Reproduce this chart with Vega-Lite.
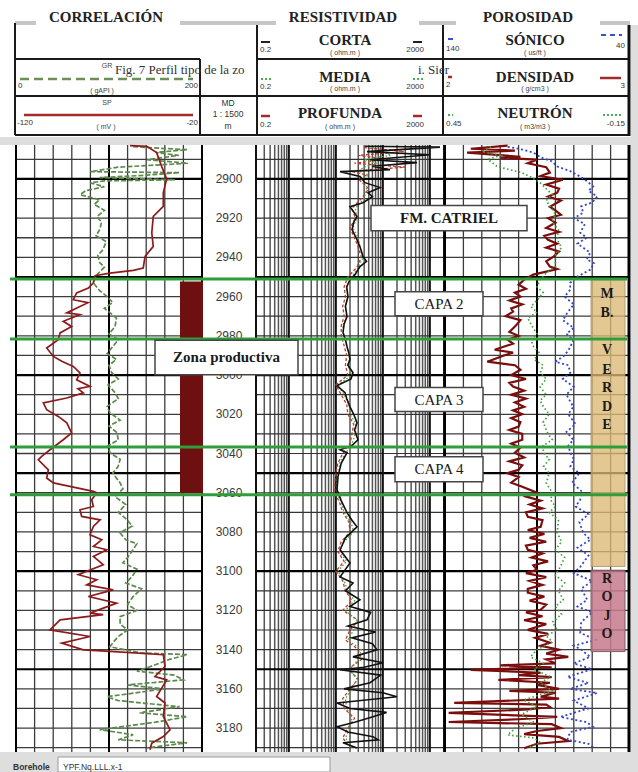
{
"$schema":"https://vega.github.io/schema/vega-lite/v6.json",
"width":638,"height":772,"autosize":{"type":"none"},"padding":0,
"background":"#ffffff",
"config":{"view":{"stroke":null}},
"datasets":{
"hmin":[{"d":2890},{"d":2910},{"d":2920},{"d":2930},{"d":2940},{"d":2960},{"d":2970},{"d":2980},{"d":2990},{"d":3010},{"d":3020},{"d":3030},{"d":3040},{"d":3060},{"d":3070},{"d":3080},{"d":3090},{"d":3110},{"d":3120},{"d":3130},{"d":3140},{"d":3160},{"d":3170},{"d":3180},{"d":3190}],
"hmaj":[{"d":2900},{"d":2950},{"d":3000},{"d":3050},{"d":3100},{"d":3150}],
"sp":[{"d":2883,"v":-58.7},{"d":2883.4,"v":-49.7},{"d":2886.6,"v":-44.4},{"d":2893.6,"v":-41.7},{"d":2900,"v":-39},{"d":2907.1,"v":-40.8},{"d":2914,"v":-40.8},{"d":2919.1,"v":-46.2},{"d":2927.5,"v":-47},{"d":2934.4,"v":-46.2},{"d":2939.5,"v":-50.6},{"d":2945.4,"v":-51.6},{"d":2946.6,"v":-56.9},{"d":2948,"v":-69.5},{"d":2949.3,"v":-77.5},{"d":2953,"v":-78.4},{"d":2955.6,"v":-81.1},{"d":2958.1,"v":-87.4},{"d":2961.6,"v":-89.2},{"d":2963.1,"v":-81.3},{"d":2965,"v":-85.6},{"d":2968.3,"v":-92.7},{"d":2969.2,"v":-85.6},{"d":2972.6,"v":-94.6},{"d":2975.2,"v":-90.1},{"d":2978.5,"v":-96.3},{"d":2982,"v":-97.3},{"d":2986.2,"v":-103.5},{"d":2990.5,"v":-99.9},{"d":2993,"v":-95.4},{"d":2995.6,"v":-89.2},{"d":2998.9,"v":-85.6},{"d":3002.4,"v":-87.4},{"d":3005.8,"v":-80.2},{"d":3007,"v":-86.7},{"d":3009.1,"v":-83.8},{"d":3011.7,"v":-92.7},{"d":3014.2,"v":-105.3},{"d":3017.7,"v":-103.5},{"d":3021.1,"v":-97.3},{"d":3024.4,"v":-92.7},{"d":3029.5,"v":-90.1},{"d":3033,"v":-94.6},{"d":3038.1,"v":-101.7},{"d":3041.5,"v":-106.2},{"d":3043.2,"v":-108},{"d":3048.3,"v":-102.6},{"d":3052.5,"v":-103.5},{"d":3055,"v":-99.9},{"d":3059.3,"v":-78.4},{"d":3060.1,"v":-76.6},{"d":3063.6,"v":-79.3},{"d":3067,"v":-78.4},{"d":3068.7,"v":-85.6},{"d":3072.1,"v":-84.7},{"d":3073.8,"v":-74.8},{"d":3077.2,"v":-78.4},{"d":3081.4,"v":-80.2},{"d":3084,"v":-73.9},{"d":3087.4,"v":-78.4},{"d":3089.1,"v":-71.2},{"d":3092.5,"v":-78.4},{"d":3096.7,"v":-73.1},{"d":3101.8,"v":-86.5},{"d":3104.4,"v":-76.6},{"d":3107,"v":-82},{"d":3109.5,"v":-67.7},{"d":3112.9,"v":-81.1},{"d":3116.3,"v":-65.9},{"d":3121.4,"v":-80.2},{"d":3122.2,"v":-73.1},{"d":3124.8,"v":-96.3},{"d":3129.9,"v":-101.7},{"d":3133.3,"v":-80.2},{"d":3136.7,"v":-95.4},{"d":3140.1,"v":-83.8},{"d":3140.9,"v":-69.5},{"d":3142.6,"v":-40.8},{"d":3148.6,"v":-39.9},{"d":3153.7,"v":-45.3},{"d":3155.4,"v":-39},{"d":3163.9,"v":-44.4},{"d":3167.2,"v":-39.9},{"d":3174.1,"v":-40.8},{"d":3180.9,"v":-37.2},{"d":3184.3,"v":-40.8},{"d":3187.7,"v":-47},{"d":3191.1,"v":-48}],
"gr":[{"d":2883.5,"v":126},{"d":2884.5,"v":160},{"d":2885.1,"v":184},{"d":2886.5,"v":150},{"d":2888,"v":175},{"d":2890.2,"v":141},{"d":2892,"v":185},{"d":2894,"v":110},{"d":2896.3,"v":80},{"d":2896.8,"v":176},{"d":2898.3,"v":133},{"d":2899.3,"v":90},{"d":2900.4,"v":171},{"d":2901,"v":95},{"d":2902,"v":80},{"d":2904,"v":95},{"d":2906,"v":75},{"d":2908,"v":69},{"d":2910.6,"v":90},{"d":2913,"v":84},{"d":2916,"v":95},{"d":2919.2,"v":87},{"d":2922,"v":92},{"d":2925.9,"v":90},{"d":2929,"v":86},{"d":2932,"v":97},{"d":2936.1,"v":93.5},{"d":2939,"v":88},{"d":2942.7,"v":90},{"d":2945,"v":95},{"d":2948.8,"v":87},{"d":2952.9,"v":83},{"d":2957,"v":90},{"d":2960,"v":98},{"d":2963,"v":104},{"d":2966,"v":95},{"d":2968.2,"v":101},{"d":2971,"v":108},{"d":2975.3,"v":106.5},{"d":2979,"v":100},{"d":2982,"v":110},{"d":2985.5,"v":104},{"d":2989,"v":98},{"d":2992,"v":108},{"d":2995,"v":100},{"d":2998.8,"v":103},{"d":3002,"v":110},{"d":3005,"v":99},{"d":3009,"v":106.5},{"d":3012,"v":110},{"d":3016,"v":98},{"d":3019.2,"v":101},{"d":3023,"v":112},{"d":3026,"v":100},{"d":3029.4,"v":108.6},{"d":3033,"v":110},{"d":3036,"v":99},{"d":3039.6,"v":101},{"d":3043,"v":112},{"d":3046.7,"v":109.7},{"d":3050,"v":104},{"d":3054.9,"v":111.8},{"d":3058,"v":115},{"d":3062,"v":106.5},{"d":3066,"v":118},{"d":3070,"v":110},{"d":3073.8,"v":119.4},{"d":3077,"v":125},{"d":3080.4,"v":111.8},{"d":3084,"v":118},{"d":3086,"v":130},{"d":3089.1,"v":125.8},{"d":3093,"v":120},{"d":3095.7,"v":115},{"d":3099,"v":130},{"d":3102.8,"v":124.7},{"d":3106,"v":118},{"d":3109,"v":135},{"d":3113,"v":125.8},{"d":3117,"v":120},{"d":3120,"v":130},{"d":3123.2,"v":111.8},{"d":3127,"v":112},{"d":3130,"v":120},{"d":3133.4,"v":109.7},{"d":3136,"v":105},{"d":3138.5,"v":101},{"d":3141.6,"v":133},{"d":3142.6,"v":184},{"d":3145,"v":165},{"d":3148.7,"v":144},{"d":3151,"v":130},{"d":3153,"v":170},{"d":3155.4,"v":180},{"d":3158,"v":120},{"d":3160,"v":160},{"d":3164,"v":98},{"d":3166,"v":110},{"d":3169.1,"v":176},{"d":3172.2,"v":133},{"d":3174.2,"v":184},{"d":3177,"v":150},{"d":3180.8,"v":90},{"d":3183.4,"v":126},{"d":3186,"v":110},{"d":3187.5,"v":184},{"d":3190.1,"v":141}],
"rb":[{"d":2883.3,"v":41.7},{"d":2883.8,"v":1644},{"d":2886.1,"v":46},{"d":2887.7,"v":1007},{"d":2890.2,"v":53.3},{"d":2891.7,"v":533},{"d":2893.5,"v":60},{"d":2895.3,"v":141.9},{"d":2896.3,"v":12.3},{"d":2898.8,"v":32.6},{"d":2901.9,"v":41.7},{"d":2904.4,"v":86.9},{"d":2907,"v":48.3},{"d":2909,"v":60},{"d":2912.1,"v":37.8},{"d":2914.2,"v":20},{"d":2919.2,"v":28.2},{"d":2922,"v":24},{"d":2925.9,"v":22.1},{"d":2931,"v":28.2},{"d":2935,"v":33},{"d":2939.6,"v":37.8},{"d":2942,"v":45},{"d":2944.7,"v":32.6},{"d":2948.8,"v":25.5},{"d":2951.4,"v":20},{"d":2955,"v":17},{"d":2960,"v":18.1},{"d":2965,"v":16},{"d":2970.2,"v":17.3},{"d":2974,"v":15},{"d":2978.4,"v":14.2},{"d":2982,"v":16},{"d":2985.5,"v":17.3},{"d":2989,"v":19},{"d":2992.2,"v":20},{"d":2995,"v":18},{"d":2998.8,"v":23.2},{"d":3002,"v":21},{"d":3005.2,"v":11},{"d":3005.9,"v":11.1},{"d":3009,"v":15.7},{"d":3012,"v":17},{"d":3016.2,"v":20},{"d":3020,"v":24},{"d":3024.3,"v":28.2},{"d":3028,"v":25},{"d":3033,"v":29.6},{"d":3036,"v":22},{"d":3038.1,"v":12.3},{"d":3039.6,"v":17.3},{"d":3045,"v":13},{"d":3051.8,"v":11.1},{"d":3058.5,"v":10.6},{"d":3064,"v":13},{"d":3070.2,"v":17.3},{"d":3074,"v":22},{"d":3077.4,"v":28.2},{"d":3083,"v":16},{"d":3089.1,"v":12.3},{"d":3095.8,"v":20},{"d":3102.9,"v":12.3},{"d":3106,"v":23.2},{"d":3110,"v":16},{"d":3114.6,"v":32.6},{"d":3118,"v":20},{"d":3121,"v":55},{"d":3124.8,"v":46},{"d":3128,"v":18},{"d":3131,"v":70},{"d":3134,"v":22},{"d":3137,"v":60},{"d":3140.1,"v":75},{"d":3143.7,"v":23.2},{"d":3146.7,"v":100.7},{"d":3149,"v":40},{"d":3150.3,"v":12.3},{"d":3153,"v":90},{"d":3156.9,"v":53.3},{"d":3160,"v":15},{"d":3162,"v":100},{"d":3164,"v":200},{"d":3167.2,"v":10.6},{"d":3170,"v":20},{"d":3172,"v":120},{"d":3174.2,"v":61.7},{"d":3177,"v":25},{"d":3179.3,"v":10.6},{"d":3182,"v":18},{"d":3184.4,"v":61.7},{"d":3186,"v":80},{"d":3187.5,"v":14.2},{"d":3190.1,"v":28.2}],
"rr":[{"d":2884,"v":40},{"d":2886,"v":280},{"d":2888,"v":30},{"d":2890,"v":120},{"d":2892,"v":25},{"d":2894,"v":300},{"d":2896,"v":20},{"d":2898,"v":45},{"d":2900,"v":30},{"d":2905,"v":50},{"d":2910,"v":35},{"d":2915,"v":22},{"d":2920,"v":26},{"d":2925,"v":20},{"d":2930,"v":25},{"d":2935,"v":30},{"d":2940,"v":35},{"d":2945,"v":28},{"d":2950,"v":18},{"d":2955,"v":15},{"d":2960,"v":16},{"d":2965,"v":14},{"d":2970,"v":15},{"d":2975,"v":13},{"d":2980,"v":13},{"d":2985,"v":15},{"d":2990,"v":17},{"d":2995,"v":16},{"d":3000,"v":18},{"d":3005,"v":10},{"d":3010,"v":13},{"d":3015,"v":17},{"d":3020,"v":18},{"d":3025,"v":24},{"d":3030,"v":22},{"d":3035,"v":20},{"d":3040,"v":14},{"d":3045,"v":11},{"d":3050,"v":10},{"d":3055,"v":9.5},{"d":3060,"v":9.5},{"d":3065,"v":12},{"d":3070,"v":14},{"d":3075,"v":19},{"d":3080,"v":20},{"d":3085,"v":13},{"d":3090,"v":11},{"d":3095,"v":15},{"d":3100,"v":10},{"d":3105,"v":14},{"d":3110,"v":16},{"d":3115,"v":22},{"d":3120,"v":14},{"d":3125,"v":30},{"d":3130,"v":20},{"d":3135,"v":16},{"d":3140,"v":30},{"d":3145,"v":35},{"d":3150,"v":18},{"d":3155,"v":30},{"d":3160,"v":20},{"d":3165,"v":14},{"d":3170,"v":15},{"d":3175,"v":25},{"d":3180,"v":18},{"d":3185,"v":14},{"d":3190,"v":20}],
"rg":[{"d":2884,"v":60},{"d":2886,"v":90},{"d":2888,"v":150},{"d":2890,"v":40},{"d":2892,"v":70},{"d":2894,"v":40},{"d":2896,"v":30},{"d":2898,"v":50},{"d":2900,"v":35},{"d":2905,"v":45},{"d":2910,"v":40},{"d":2915,"v":26},{"d":2920,"v":28},{"d":2925,"v":23},{"d":2930,"v":30},{"d":2935,"v":33},{"d":2940,"v":38},{"d":2945,"v":30},{"d":2950,"v":22},{"d":2955,"v":17},{"d":2960,"v":18},{"d":2965,"v":16},{"d":2970,"v":17},{"d":2975,"v":14},{"d":2980,"v":15},{"d":2985,"v":17},{"d":2990,"v":20},{"d":2995,"v":18},{"d":3000,"v":22},{"d":3005,"v":11},{"d":3010,"v":15},{"d":3015,"v":19},{"d":3020,"v":20},{"d":3025,"v":27},{"d":3030,"v":26},{"d":3035,"v":22},{"d":3040,"v":16},{"d":3045,"v":12},{"d":3050,"v":11.5},{"d":3055,"v":10.5},{"d":3060,"v":10.5},{"d":3065,"v":13},{"d":3070,"v":15},{"d":3075,"v":21},{"d":3080,"v":24},{"d":3085,"v":15},{"d":3090,"v":12},{"d":3095,"v":17},{"d":3100,"v":11},{"d":3105,"v":15},{"d":3110,"v":18},{"d":3115,"v":25},{"d":3120,"v":16},{"d":3125,"v":28},{"d":3130,"v":24},{"d":3135,"v":18},{"d":3140,"v":35},{"d":3145,"v":30},{"d":3150,"v":20},{"d":3155,"v":28},{"d":3160,"v":22},{"d":3165,"v":16},{"d":3170,"v":17},{"d":3175,"v":22},{"d":3180,"v":20},{"d":3185,"v":16},{"d":3190,"v":22}],
"rho":[{"d":2883,"v":2.34},{"d":2884.6,"v":2.14},{"d":2885.6,"v":2.38},{"d":2886.6,"v":2.12},{"d":2888.7,"v":2.41},{"d":2889.2,"v":2.3},{"d":2890.2,"v":2.5},{"d":2892,"v":2.45},{"d":2894,"v":2.55},{"d":2896.8,"v":2.57},{"d":2898.5,"v":2.52},{"d":2900.4,"v":2.64},{"d":2902.9,"v":2.55},{"d":2905,"v":2.62},{"d":2907,"v":2.61},{"d":2909,"v":2.56},{"d":2911,"v":2.63},{"d":2914.2,"v":2.57},{"d":2916,"v":2.6},{"d":2918.3,"v":2.63},{"d":2920,"v":2.56},{"d":2922.3,"v":2.6},{"d":2925,"v":2.55},{"d":2927,"v":2.62},{"d":2929,"v":2.54},{"d":2931,"v":2.56},{"d":2933,"v":2.61},{"d":2935,"v":2.55},{"d":2937,"v":2.62},{"d":2939.6,"v":2.59},{"d":2942,"v":2.55},{"d":2944.7,"v":2.57},{"d":2946,"v":2.61},{"d":2948.8,"v":2.48},{"d":2951.4,"v":2.43},{"d":2954,"v":2.4},{"d":2956,"v":2.44},{"d":2958,"v":2.38},{"d":2960,"v":2.41},{"d":2962,"v":2.35},{"d":2964,"v":2.42},{"d":2966,"v":2.36},{"d":2967.7,"v":2.37},{"d":2970,"v":2.33},{"d":2972,"v":2.41},{"d":2975.3,"v":2.38},{"d":2978,"v":2.35},{"d":2980,"v":2.4},{"d":2982,"v":2.34},{"d":2984,"v":2.37},{"d":2987.1,"v":2.27},{"d":2988.6,"v":2.37},{"d":2990,"v":2.32},{"d":2993.2,"v":2.23},{"d":2995,"v":2.38},{"d":2997.3,"v":2.41},{"d":3000,"v":2.36},{"d":3002,"v":2.44},{"d":3004,"v":2.35},{"d":3005.9,"v":2.37},{"d":3008,"v":2.43},{"d":3010,"v":2.36},{"d":3012,"v":2.44},{"d":3014,"v":2.38},{"d":3016.2,"v":2.43},{"d":3018,"v":2.37},{"d":3020,"v":2.42},{"d":3022,"v":2.36},{"d":3024,"v":2.41},{"d":3026.3,"v":2.4},{"d":3028,"v":2.35},{"d":3030,"v":2.42},{"d":3033,"v":2.42},{"d":3035,"v":2.36},{"d":3037,"v":2.41},{"d":3039.6,"v":2.38},{"d":3042,"v":2.43},{"d":3044,"v":2.35},{"d":3046,"v":2.42},{"d":3048.3,"v":2.4},{"d":3050,"v":2.34},{"d":3052,"v":2.4},{"d":3054.9,"v":2.36},{"d":3057,"v":2.42},{"d":3060,"v":2.5},{"d":3062,"v":2.44},{"d":3064,"v":2.52},{"d":3066,"v":2.46},{"d":3068,"v":2.53},{"d":3070,"v":2.44},{"d":3072.3,"v":2.45},{"d":3074,"v":2.53},{"d":3077.4,"v":2.52},{"d":3079,"v":2.45},{"d":3081,"v":2.54},{"d":3083,"v":2.46},{"d":3085,"v":2.55},{"d":3087,"v":2.44},{"d":3089.1,"v":2.45},{"d":3091,"v":2.53},{"d":3093,"v":2.47},{"d":3095,"v":2.56},{"d":3097,"v":2.48},{"d":3099.3,"v":2.5},{"d":3101,"v":2.44},{"d":3103,"v":2.55},{"d":3105,"v":2.46},{"d":3107,"v":2.53},{"d":3109,"v":2.45},{"d":3111,"v":2.45},{"d":3113,"v":2.54},{"d":3115,"v":2.46},{"d":3117,"v":2.55},{"d":3119.7,"v":2.52},{"d":3121,"v":2.44},{"d":3123,"v":2.53},{"d":3125,"v":2.43},{"d":3127,"v":2.55},{"d":3129.9,"v":2.45},{"d":3132,"v":2.56},{"d":3134,"v":2.49},{"d":3136.5,"v":2.57},{"d":3138,"v":2.52},{"d":3140,"v":2.62},{"d":3142,"v":2.55},{"d":3143.7,"v":2.67},{"d":3145,"v":2.55},{"d":3147,"v":2.6},{"d":3148,"v":2.3},{"d":3149,"v":2.58},{"d":3150.3,"v":2.14},{"d":3151.8,"v":2.52},{"d":3153,"v":2.4},{"d":3154,"v":2.58},{"d":3155.4,"v":2.29},{"d":3156.9,"v":2.57},{"d":3158,"v":2.5},{"d":3160,"v":2.62},{"d":3161,"v":2.35},{"d":3162,"v":2.6},{"d":3164,"v":2.52},{"d":3165,"v":2.62},{"d":3167.2,"v":2.05},{"d":3168,"v":2.55},{"d":3169.2,"v":2.57},{"d":3170.5,"v":2.45},{"d":3172.3,"v":2.02},{"d":3174.3,"v":2.61},{"d":3175.5,"v":2.4},{"d":3176.9,"v":2.02},{"d":3178,"v":2.58},{"d":3180,"v":2.63},{"d":3181.5,"v":2.5},{"d":3183.1,"v":2.43},{"d":3184.5,"v":2.62},{"d":3186.6,"v":2.67},{"d":3188,"v":2.5},{"d":3190.3,"v":2.43}],
"nphi":[{"d":2883.6,"v":0.3},{"d":2886,"v":0.33},{"d":2888,"v":0.27},{"d":2890,"v":0.31},{"d":2893.7,"v":0.28},{"d":2896.8,"v":0.2},{"d":2899,"v":0.17},{"d":2901.9,"v":0.14},{"d":2905,"v":0.12},{"d":2908,"v":0.1},{"d":2911,"v":0.12},{"d":2914.2,"v":0.106},{"d":2918,"v":0.09},{"d":2922,"v":0.1},{"d":2926,"v":0.08},{"d":2931,"v":0.084},{"d":2935,"v":0.07},{"d":2939,"v":0.09},{"d":2944.7,"v":0.09},{"d":2948,"v":0.12},{"d":2951.4,"v":0.14},{"d":2955,"v":0.15},{"d":2958,"v":0.13},{"d":2961.6,"v":0.148},{"d":2965,"v":0.17},{"d":2968,"v":0.15},{"d":2971,"v":0.18},{"d":2975.3,"v":0.165},{"d":2979,"v":0.15},{"d":2982,"v":0.17},{"d":2985.5,"v":0.161},{"d":2989,"v":0.14},{"d":2992,"v":0.16},{"d":2995,"v":0.13},{"d":2998.8,"v":0.139},{"d":3002,"v":0.12},{"d":3006,"v":0.14},{"d":3010,"v":0.12},{"d":3013,"v":0.14},{"d":3016.2,"v":0.129},{"d":3020,"v":0.11},{"d":3024,"v":0.13},{"d":3029.4,"v":0.116},{"d":3033,"v":0.1},{"d":3036,"v":0.13},{"d":3039.6,"v":0.129},{"d":3043,"v":0.11},{"d":3046.7,"v":0.129},{"d":3050,"v":0.11},{"d":3055,"v":0.12},{"d":3060,"v":0.1},{"d":3063.6,"v":0.106},{"d":3067,"v":0.09},{"d":3070,"v":0.11},{"d":3074,"v":0.08},{"d":3080.4,"v":0.084},{"d":3085,"v":0.07},{"d":3089,"v":0.09},{"d":3093,"v":0.06},{"d":3097.8,"v":0.074},{"d":3102,"v":0.09},{"d":3106,"v":0.06},{"d":3110,"v":0.08},{"d":3114.6,"v":0.064},{"d":3118,"v":0.09},{"d":3122,"v":0.07},{"d":3126,"v":0.1},{"d":3129.9,"v":0.084},{"d":3133,"v":0.12},{"d":3136,"v":0.1},{"d":3140,"v":0.15},{"d":3143.7,"v":0.171},{"d":3147,"v":0.13},{"d":3150,"v":0.16},{"d":3153.9,"v":0.106},{"d":3157,"v":0.14},{"d":3161,"v":0.1},{"d":3165.7,"v":0.194},{"d":3169,"v":0.15},{"d":3173,"v":0.2},{"d":3177,"v":0.16},{"d":3180,"v":0.22},{"d":3183.5,"v":0.246},{"d":3185,"v":0.16},{"d":3187.5,"v":0.139},{"d":3190,"v":0.18}],
"dt":[{"d":2883.6,"v":105.9},{"d":2885,"v":98},{"d":2886.6,"v":91.9},{"d":2889,"v":88},{"d":2891,"v":82},{"d":2893.7,"v":78.9},{"d":2896,"v":72},{"d":2898.8,"v":66.5},{"d":2901,"v":63},{"d":2903.9,"v":59.5},{"d":2906,"v":62},{"d":2909,"v":57.3},{"d":2912,"v":60},{"d":2914,"v":66},{"d":2917.2,"v":64.9},{"d":2920,"v":70},{"d":2923,"v":64},{"d":2927.4,"v":66.5},{"d":2930,"v":63},{"d":2933,"v":68},{"d":2937.6,"v":61.1},{"d":2941,"v":63},{"d":2943,"v":59},{"d":2946.3,"v":61.1},{"d":2949.8,"v":68.1},{"d":2953,"v":72},{"d":2956.5,"v":71.9},{"d":2960,"v":75},{"d":2964,"v":70},{"d":2968.2,"v":73.5},{"d":2972,"v":76},{"d":2976,"v":70},{"d":2979,"v":74},{"d":2982,"v":70.3},{"d":2986,"v":72},{"d":2990,"v":75},{"d":2993.2,"v":80},{"d":2995,"v":73},{"d":2998.8,"v":71.9},{"d":3002,"v":76},{"d":3006,"v":70},{"d":3010,"v":74},{"d":3016.2,"v":70.3},{"d":3020,"v":73},{"d":3025,"v":69},{"d":3029,"v":74},{"d":3033,"v":70.3},{"d":3036,"v":73},{"d":3039.6,"v":71.9},{"d":3043,"v":70},{"d":3046.7,"v":71.9},{"d":3050,"v":67},{"d":3055,"v":71},{"d":3059,"v":66},{"d":3063.6,"v":66.5},{"d":3067,"v":69},{"d":3071,"v":62},{"d":3075,"v":67},{"d":3080.4,"v":64.9},{"d":3084,"v":61},{"d":3088,"v":68},{"d":3092,"v":62},{"d":3097.8,"v":66.5},{"d":3101,"v":70},{"d":3105,"v":60},{"d":3109,"v":66},{"d":3114.6,"v":62.7},{"d":3118,"v":68},{"d":3121,"v":60},{"d":3126,"v":66},{"d":3131.4,"v":66.5},{"d":3135,"v":58},{"d":3138,"v":70},{"d":3140,"v":66},{"d":3143.7,"v":61.1},{"d":3147,"v":70},{"d":3150,"v":60},{"d":3153.9,"v":73.5},{"d":3157,"v":62},{"d":3160,"v":72},{"d":3162.1,"v":57.3},{"d":3166,"v":70},{"d":3170,"v":62},{"d":3174.3,"v":77.3},{"d":3177,"v":63},{"d":3179.4,"v":59.5},{"d":3182,"v":72},{"d":3186,"v":73.5},{"d":3188,"v":62},{"d":3189.6,"v":59.5}]
},
"resolve":{"scale":{"x":"independent","y":"independent"}},
"layer":[
{"layer":[
 {"data":{"values":[{"x":0,"x2":638,"y":137,"y2":145},{"x":631,"x2":638,"y":25,"y2":772},{"x":0,"x2":638,"y":752,"y2":772}]},
  "mark":{"type":"rect","color":"#dedede"},
  "encoding":{"x":{"field":"x","type":"quantitative","scale":{"domain":[0,638],"range":[0,638],"nice":false,"zero":false},"axis":null},"x2":{"field":"x2"},"y":{"field":"y","type":"quantitative","scale":{"domain":[0,772],"range":[0,772],"nice":false,"zero":false},"axis":null},"y2":{"field":"y2"}}},
 {"data":{"values":[{"x":58,"x2":330,"y":757,"y2":772}]},
  "mark":{"type":"rect","fill":"#ffffff","stroke":"#9a9a9a","strokeWidth":1},
  "encoding":{"x":{"field":"x","type":"quantitative","scale":{"domain":[0,638],"range":[0,638],"nice":false,"zero":false},"axis":null},"x2":{"field":"x2"},"y":{"field":"y","type":"quantitative","scale":{"domain":[0,772],"range":[0,772],"nice":false,"zero":false},"axis":null},"y2":{"field":"y2"}}},
 {"data":{"values":[{"x":15,"x2":36,"y":23,"y2":23},{"x":180,"x2":276,"y":23,"y2":23},{"x":419,"x2":456,"y":23,"y2":23},{"x":600,"x2":630,"y":23,"y2":23}]},
  "mark":{"type":"rule","color":"#c6c6c6","strokeWidth":4},
  "encoding":{"x":{"field":"x","type":"quantitative","scale":{"domain":[0,638],"range":[0,638],"nice":false,"zero":false},"axis":null},"x2":{"field":"x2"},"y":{"field":"y","type":"quantitative","scale":{"domain":[0,772],"range":[0,772],"nice":false,"zero":false},"axis":null},"y2":{"field":"y2"}}},
 {"data":{"values":[{"x":15,"x2":15,"y":23,"y2":135},{"x":200,"x2":200,"y":59,"y2":135},{"x":257,"x2":257,"y":25,"y2":135},{"x":443,"x2":443,"y":25,"y2":135},{"x":15,"x2":200,"y":59,"y2":59},{"x":257,"x2":629,"y":59,"y2":59},{"x":15,"x2":629,"y":96,"y2":96},{"x":15,"x2":629,"y":135,"y2":135}]},
  "mark":{"type":"rule","color":"#1a1a1a","strokeWidth":2},
  "encoding":{"x":{"field":"x","type":"quantitative","scale":{"domain":[0,638],"range":[0,638],"nice":false,"zero":false},"axis":null},"x2":{"field":"x2"},"y":{"field":"y","type":"quantitative","scale":{"domain":[0,772],"range":[0,772],"nice":false,"zero":false},"axis":null},"y2":{"field":"y2"}}},
 {"data":{"values":[{"x":629,"x2":629,"y":25,"y2":136}]},
  "mark":{"type":"rule","color":"#111111","strokeWidth":3},
  "encoding":{"x":{"field":"x","type":"quantitative","scale":{"domain":[0,638],"range":[0,638],"nice":false,"zero":false},"axis":null},"x2":{"field":"x2"},"y":{"field":"y","type":"quantitative","scale":{"domain":[0,772],"range":[0,772],"nice":false,"zero":false},"axis":null},"y2":{"field":"y2"}}},
 {"data":{"values":[{"x":20,"x2":193,"y":79,"y2":79}]},
  "mark":{"type":"rule","color":"#6b8e5a","strokeWidth":2.5,"strokeDash":[9,5]},
  "encoding":{"x":{"field":"x","type":"quantitative","scale":{"domain":[0,638],"range":[0,638],"nice":false,"zero":false},"axis":null},"x2":{"field":"x2"},"y":{"field":"y","type":"quantitative","scale":{"domain":[0,772],"range":[0,772],"nice":false,"zero":false},"axis":null},"y2":{"field":"y2"}}},
 {"data":{"values":[{"x":24,"x2":193,"y":115,"y2":115},{"x":261,"x2":270,"y":116,"y2":116},{"x":413,"x2":422,"y":116,"y2":116},{"x":448,"x2":452,"y":77,"y2":77},{"x":600,"x2":621,"y":78,"y2":78}]},
  "mark":{"type":"rule","color":"#a52a2a","strokeWidth":2.5},
  "encoding":{"x":{"field":"x","type":"quantitative","scale":{"domain":[0,638],"range":[0,638],"nice":false,"zero":false},"axis":null},"x2":{"field":"x2"},"y":{"field":"y","type":"quantitative","scale":{"domain":[0,772],"range":[0,772],"nice":false,"zero":false},"axis":null},"y2":{"field":"y2"}}},
 {"data":{"values":[{"x":261,"x2":270,"y":42,"y2":42},{"x":413,"x2":422,"y":42,"y2":42}]},
  "mark":{"type":"rule","color":"#222222","strokeWidth":2},
  "encoding":{"x":{"field":"x","type":"quantitative","scale":{"domain":[0,638],"range":[0,638],"nice":false,"zero":false},"axis":null},"x2":{"field":"x2"},"y":{"field":"y","type":"quantitative","scale":{"domain":[0,772],"range":[0,772],"nice":false,"zero":false},"axis":null},"y2":{"field":"y2"}}},
 {"data":{"values":[{"x":261,"x2":271,"y":79,"y2":79},{"x":413,"x2":423,"y":79,"y2":79},{"x":448,"x2":453,"y":115,"y2":115},{"x":603,"x2":622,"y":115,"y2":115}]},
  "mark":{"type":"rule","color":"#4caf50","strokeWidth":2,"strokeDash":[2,2]},
  "encoding":{"x":{"field":"x","type":"quantitative","scale":{"domain":[0,638],"range":[0,638],"nice":false,"zero":false},"axis":null},"x2":{"field":"x2"},"y":{"field":"y","type":"quantitative","scale":{"domain":[0,772],"range":[0,772],"nice":false,"zero":false},"axis":null},"y2":{"field":"y2"}}},
 {"data":{"values":[{"x":448,"x2":453,"y":39,"y2":39},{"x":601,"x2":622,"y":35,"y2":35}]},
  "mark":{"type":"rule","color":"#3a4fc8","strokeWidth":2,"strokeDash":[5,4]},
  "encoding":{"x":{"field":"x","type":"quantitative","scale":{"domain":[0,638],"range":[0,638],"nice":false,"zero":false},"axis":null},"x2":{"field":"x2"},"y":{"field":"y","type":"quantitative","scale":{"domain":[0,772],"range":[0,772],"nice":false,"zero":false},"axis":null},"y2":{"field":"y2"}}},
 {"data":{"values":[{"x":106,"y":17,"t":"CORRELACIÓN"},{"x":343,"y":17,"t":"RESISTIVIDAD"},{"x":528,"y":17,"t":"POROSIDAD"}]},
  "mark":{"type":"text","font":"Liberation Serif","fontWeight":"bold","fontSize":15,"color":"#222222","align":"center","baseline":"middle"},
  "encoding":{"x":{"field":"x","type":"quantitative","scale":{"domain":[0,638],"range":[0,638],"nice":false,"zero":false},"axis":null},"y":{"field":"y","type":"quantitative","scale":{"domain":[0,772],"range":[0,772],"nice":false,"zero":false},"axis":null},"text":{"field":"t"}}},
 {"data":{"values":[{"x":345,"y":40,"t":"CORTA"},{"x":345,"y":77,"t":"MEDIA"},{"x":340,"y":113,"t":"PROFUNDA"},{"x":535,"y":40,"t":"SÓNICO"},{"x":535,"y":77,"t":"DENSIDAD"},{"x":535,"y":113,"t":"NEUTRÓN"}]},
  "mark":{"type":"text","font":"Liberation Serif","fontWeight":"bold","fontSize":15,"color":"#222222","align":"center","baseline":"middle"},
  "encoding":{"x":{"field":"x","type":"quantitative","scale":{"domain":[0,638],"range":[0,638],"nice":false,"zero":false},"axis":null},"y":{"field":"y","type":"quantitative","scale":{"domain":[0,772],"range":[0,772],"nice":false,"zero":false},"axis":null},"text":{"field":"t"}}},
 {"data":{"values":[{"x":345,"y":53,"t":"( ohm.m )"},{"x":345,"y":89,"t":"( ohm.m )"},{"x":340,"y":127,"t":"( ohm.m )"},{"x":535,"y":53,"t":"( us/ft )"},{"x":535,"y":89,"t":"( g/cm3 )"},{"x":535,"y":127,"t":"( m3/m3 )"},{"x":107,"y":66,"t":"GR"},{"x":102,"y":91,"t":"( gAPI )"},{"x":107,"y":103,"t":"SP"},{"x":106,"y":127,"t":"( mV )"}]},
  "mark":{"type":"text","font":"Liberation Sans","fontSize":7,"color":"#444444","align":"center","baseline":"middle"},
  "encoding":{"x":{"field":"x","type":"quantitative","scale":{"domain":[0,638],"range":[0,638],"nice":false,"zero":false},"axis":null},"y":{"field":"y","type":"quantitative","scale":{"domain":[0,772],"range":[0,772],"nice":false,"zero":false},"axis":null},"text":{"field":"t"}}},
 {"data":{"values":[{"x":228,"y":103,"t":"MD"},{"x":228,"y":114,"t":"1 : 1500"},{"x":228,"y":126,"t":"m"}]},
  "mark":{"type":"text","font":"Liberation Sans","fontSize":8.5,"color":"#333333","align":"center","baseline":"middle"},
  "encoding":{"x":{"field":"x","type":"quantitative","scale":{"domain":[0,638],"range":[0,638],"nice":false,"zero":false},"axis":null},"y":{"field":"y","type":"quantitative","scale":{"domain":[0,772],"range":[0,772],"nice":false,"zero":false},"axis":null},"text":{"field":"t"}}},
 {"data":{"values":[{"x":18,"y":86,"t":"0"},{"x":17,"y":123,"t":"-120"},{"x":260,"y":50,"t":"0.2"},{"x":260,"y":87,"t":"0.2"},{"x":260,"y":125,"t":"0.2"},{"x":446,"y":49,"t":"140"},{"x":446,"y":85,"t":"2"},{"x":446,"y":124,"t":"0.45"}]},
  "mark":{"type":"text","font":"Liberation Sans","fontSize":8,"color":"#333333","align":"left","baseline":"middle"},
  "encoding":{"x":{"field":"x","type":"quantitative","scale":{"domain":[0,638],"range":[0,638],"nice":false,"zero":false},"axis":null},"y":{"field":"y","type":"quantitative","scale":{"domain":[0,772],"range":[0,772],"nice":false,"zero":false},"axis":null},"text":{"field":"t"}}},
 {"data":{"values":[{"x":198,"y":86,"t":"200"},{"x":198,"y":123,"t":"-20"},{"x":424,"y":50,"t":"2000"},{"x":424,"y":87,"t":"2000"},{"x":424,"y":125,"t":"2000"},{"x":625,"y":46,"t":"40"},{"x":625,"y":86,"t":"3"},{"x":625,"y":124,"t":"-0.15"}]},
  "mark":{"type":"text","font":"Liberation Sans","fontSize":8,"color":"#333333","align":"right","baseline":"middle"},
  "encoding":{"x":{"field":"x","type":"quantitative","scale":{"domain":[0,638],"range":[0,638],"nice":false,"zero":false},"axis":null},"y":{"field":"y","type":"quantitative","scale":{"domain":[0,772],"range":[0,772],"nice":false,"zero":false},"axis":null},"text":{"field":"t"}}},
 {"data":{"values":[{"x":115,"y":70,"t":"Fig. 7 Perfil tipo de la zo"},{"x":418,"y":70,"t":"i. Sier"}]},
  "mark":{"type":"text","font":"Liberation Serif","fontSize":13,"color":"#333333","align":"left","baseline":"middle"},
  "encoding":{"x":{"field":"x","type":"quantitative","scale":{"domain":[0,638],"range":[0,638],"nice":false,"zero":false},"axis":null},"y":{"field":"y","type":"quantitative","scale":{"domain":[0,772],"range":[0,772],"nice":false,"zero":false},"axis":null},"text":{"field":"t"}}},
 {"data":{"values":[{"x":13,"y":767,"t":"Borehole"}]},
  "mark":{"type":"text","font":"Liberation Sans","fontSize":8.5,"fontWeight":"bold","color":"#333333","align":"left","baseline":"middle"},
  "encoding":{"x":{"field":"x","type":"quantitative","scale":{"domain":[0,638],"range":[0,638],"nice":false,"zero":false},"axis":null},"y":{"field":"y","type":"quantitative","scale":{"domain":[0,772],"range":[0,772],"nice":false,"zero":false},"axis":null},"text":{"field":"t"}}},
 {"data":{"values":[{"x":63,"y":767,"t":"YPF.Nq.LLL.x-1"}]},
  "mark":{"type":"text","font":"Liberation Sans","fontSize":8.5,"color":"#333333","align":"left","baseline":"middle"},
  "encoding":{"x":{"field":"x","type":"quantitative","scale":{"domain":[0,638],"range":[0,638],"nice":false,"zero":false},"axis":null},"y":{"field":"y","type":"quantitative","scale":{"domain":[0,772],"range":[0,772],"nice":false,"zero":false},"axis":null},"text":{"field":"t"}}}
]},
{"layer":[
 {"data":{"values":[{"v":20},{"v":40},{"v":60},{"v":80},{"v":120},{"v":140},{"v":160},{"v":180}]},
  "mark":{"type":"rule","color":"#3c3c3c","strokeWidth":1.3},
  "encoding":{"x":{"field":"v","type":"quantitative","scale":{"domain":[0,200],"range":[16,202],"nice":false,"zero":false},"axis":null},"y":{"datum":2882.7,"type":"quantitative","scale":{"domain":[2882.7,3192.2],"range":[145,752],"nice":false,"zero":false},"axis":null},"y2":{"datum":3192.2}}},
 {"data":{"name":"hmin"},
  "mark":{"type":"rule","color":"#3c3c3c","strokeWidth":1.3},
  "encoding":{"y":{"field":"d","type":"quantitative","scale":{"domain":[2882.7,3192.2],"range":[145,752],"nice":false,"zero":false},"axis":null},"x":{"datum":0,"type":"quantitative","scale":{"domain":[0,200],"range":[16,202],"nice":false,"zero":false},"axis":null},"x2":{"datum":200}}},
 {"data":{"name":"hmaj"},
  "mark":{"type":"rule","color":"#000000","strokeWidth":2.2},
  "encoding":{"y":{"field":"d","type":"quantitative","scale":{"domain":[2882.7,3192.2],"range":[145,752],"nice":false,"zero":false},"axis":null},"x":{"datum":0,"type":"quantitative","scale":{"domain":[0,200],"range":[16,202],"nice":false,"zero":false},"axis":null},"x2":{"datum":200}}},
 {"data":{"values":[{"v":0},{"v":100},{"v":200}]},
  "mark":{"type":"rule","color":"#000000","strokeWidth":2},
  "encoding":{"x":{"field":"v","type":"quantitative","scale":{"domain":[0,200],"range":[16,202],"nice":false,"zero":false},"axis":null},"y":{"datum":2882.7,"type":"quantitative","scale":{"domain":[2882.7,3192.2],"range":[145,752],"nice":false,"zero":false},"axis":null},"y2":{"datum":3192.2}}},
 {"data":{"name":"gr"},
  "mark":{"type":"line","stroke":"#5b8a4c","strokeWidth":1.7,"strokeDash":[5,2]},
  "encoding":{"x":{"field":"v","type":"quantitative","scale":{"domain":[0,200],"range":[16,202],"nice":false,"zero":false},"axis":null},"y":{"field":"d","type":"quantitative","scale":{"domain":[2882.7,3192.2],"range":[145,752],"nice":false,"zero":false},"axis":null},"order":{"field":"d","type":"quantitative"}}}
]},
{"data":{"name":"sp"},
 "mark":{"type":"line","stroke":"#8e1b1b","strokeWidth":1.7},
 "encoding":{"x":{"field":"v","type":"quantitative","scale":{"domain":[-120,-20],"range":[16,202],"nice":false,"zero":false},"axis":null},"y":{"field":"d","type":"quantitative","scale":{"domain":[2882.7,3192.2],"range":[145,752],"nice":false,"zero":false},"axis":null},"order":{"field":"d","type":"quantitative"}}},
{"layer":[
 {"data":{"values":[{"v":0.3},{"v":0.4},{"v":0.5},{"v":0.6},{"v":0.7},{"v":0.8},{"v":0.9},{"v":2},{"v":3},{"v":4},{"v":5},{"v":6},{"v":7},{"v":8},{"v":9},{"v":20},{"v":30},{"v":40},{"v":50},{"v":60},{"v":70},{"v":80},{"v":90},{"v":200},{"v":300},{"v":400},{"v":500},{"v":600},{"v":700},{"v":800},{"v":900}]},
  "mark":{"type":"rule","color":"#555555","strokeWidth":1.5},
  "encoding":{"x":{"field":"v","type":"quantitative","scale":{"type":"log","domain":[0.2,2000],"range":[256,444],"nice":false},"axis":null},"y":{"datum":2882.7,"type":"quantitative","scale":{"domain":[2882.7,3192.2],"range":[145,752],"nice":false,"zero":false},"axis":null},"y2":{"datum":3192.2}}},
 {"data":{"name":"hmin"},
  "mark":{"type":"rule","color":"#333333","strokeWidth":1.2},
  "encoding":{"y":{"field":"d","type":"quantitative","scale":{"domain":[2882.7,3192.2],"range":[145,752],"nice":false,"zero":false},"axis":null},"x":{"datum":0.2,"type":"quantitative","scale":{"type":"log","domain":[0.2,2000],"range":[256,444],"nice":false},"axis":null},"x2":{"datum":2000}}},
 {"data":{"name":"hmaj"},
  "mark":{"type":"rule","color":"#000000","strokeWidth":2.2},
  "encoding":{"y":{"field":"d","type":"quantitative","scale":{"domain":[2882.7,3192.2],"range":[145,752],"nice":false,"zero":false},"axis":null},"x":{"datum":0.2,"type":"quantitative","scale":{"type":"log","domain":[0.2,2000],"range":[256,444],"nice":false},"axis":null},"x2":{"datum":2000}}},
 {"data":{"values":[{"v":0.2},{"v":1},{"v":10},{"v":100},{"v":1000},{"v":2000}]},
  "mark":{"type":"rule","color":"#111111","strokeWidth":2},
  "encoding":{"x":{"field":"v","type":"quantitative","scale":{"type":"log","domain":[0.2,2000],"range":[256,444],"nice":false},"axis":null},"y":{"datum":2882.7,"type":"quantitative","scale":{"domain":[2882.7,3192.2],"range":[145,752],"nice":false,"zero":false},"axis":null},"y2":{"datum":3192.2}}},
 {"data":{"name":"rr"},
  "mark":{"type":"line","stroke":"#c0392b","strokeWidth":1.3,"strokeDash":[3,2]},
  "encoding":{"x":{"field":"v","type":"quantitative","scale":{"type":"log","domain":[0.2,2000],"range":[256,444],"nice":false},"axis":null},"y":{"field":"d","type":"quantitative","scale":{"domain":[2882.7,3192.2],"range":[145,752],"nice":false,"zero":false},"axis":null},"order":{"field":"d","type":"quantitative"}}},
 {"data":{"name":"rg"},
  "mark":{"type":"line","stroke":"#45a845","strokeWidth":1.3,"strokeDash":[1.5,2]},
  "encoding":{"x":{"field":"v","type":"quantitative","scale":{"type":"log","domain":[0.2,2000],"range":[256,444],"nice":false},"axis":null},"y":{"field":"d","type":"quantitative","scale":{"domain":[2882.7,3192.2],"range":[145,752],"nice":false,"zero":false},"axis":null},"order":{"field":"d","type":"quantitative"}}},
 {"data":{"name":"rb"},
  "mark":{"type":"line","stroke":"#111111","strokeWidth":1.6},
  "encoding":{"x":{"field":"v","type":"quantitative","scale":{"type":"log","domain":[0.2,2000],"range":[256,444],"nice":false},"axis":null},"y":{"field":"d","type":"quantitative","scale":{"domain":[2882.7,3192.2],"range":[145,752],"nice":false,"zero":false},"axis":null},"order":{"field":"d","type":"quantitative"}}}
]},
{"layer":[
 {"data":{"values":[{"v":2.1},{"v":2.2},{"v":2.3},{"v":2.4},{"v":2.6},{"v":2.7},{"v":2.8},{"v":2.9}]},
  "mark":{"type":"rule","color":"#3c3c3c","strokeWidth":1.3},
  "encoding":{"x":{"field":"v","type":"quantitative","scale":{"domain":[2,3],"range":[445,629],"nice":false,"zero":false},"axis":null},"y":{"datum":2882.7,"type":"quantitative","scale":{"domain":[2882.7,3192.2],"range":[145,752],"nice":false,"zero":false},"axis":null},"y2":{"datum":3192.2}}},
 {"data":{"name":"hmin"},
  "mark":{"type":"rule","color":"#3c3c3c","strokeWidth":1.3},
  "encoding":{"y":{"field":"d","type":"quantitative","scale":{"domain":[2882.7,3192.2],"range":[145,752],"nice":false,"zero":false},"axis":null},"x":{"datum":2,"type":"quantitative","scale":{"domain":[2,3],"range":[445,629],"nice":false,"zero":false},"axis":null},"x2":{"datum":3}}},
 {"data":{"name":"hmaj"},
  "mark":{"type":"rule","color":"#000000","strokeWidth":2.2},
  "encoding":{"y":{"field":"d","type":"quantitative","scale":{"domain":[2882.7,3192.2],"range":[145,752],"nice":false,"zero":false},"axis":null},"x":{"datum":2,"type":"quantitative","scale":{"domain":[2,3],"range":[445,629],"nice":false,"zero":false},"axis":null},"x2":{"datum":3}}},
 {"data":{"values":[{"v":2},{"v":2.5}]},
  "mark":{"type":"rule","color":"#000000","strokeWidth":2},
  "encoding":{"x":{"field":"v","type":"quantitative","scale":{"domain":[2,3],"range":[445,629],"nice":false,"zero":false},"axis":null},"y":{"datum":2882.7,"type":"quantitative","scale":{"domain":[2882.7,3192.2],"range":[145,752],"nice":false,"zero":false},"axis":null},"y2":{"datum":3192.2}}},
 {"data":{"values":[{"v":3}]},
  "mark":{"type":"rule","color":"#000000","strokeWidth":3},
  "encoding":{"x":{"field":"v","type":"quantitative","scale":{"domain":[2,3],"range":[445,629],"nice":false,"zero":false},"axis":null},"y":{"datum":2882.7,"type":"quantitative","scale":{"domain":[2882.7,3192.2],"range":[145,752],"nice":false,"zero":false},"axis":null},"y2":{"datum":3192.2}}},
 {"data":{"name":"rho"},
  "mark":{"type":"line","stroke":"#7b0d0d","strokeWidth":2.2},
  "encoding":{"x":{"field":"v","type":"quantitative","scale":{"domain":[2,3],"range":[445,629],"nice":false,"zero":false},"axis":null},"y":{"field":"d","type":"quantitative","scale":{"domain":[2882.7,3192.2],"range":[145,752],"nice":false,"zero":false},"axis":null},"order":{"field":"d","type":"quantitative"}}}
]},
{"data":{"name":"nphi"},
 "mark":{"type":"line","stroke":"#3f9e3f","strokeWidth":1.7,"strokeDash":[1.5,2.5]},
 "encoding":{"x":{"field":"v","type":"quantitative","scale":{"domain":[-0.15,0.45],"range":[629,445],"nice":false,"zero":false},"axis":null},"y":{"field":"d","type":"quantitative","scale":{"domain":[2882.7,3192.2],"range":[145,752],"nice":false,"zero":false},"axis":null},"order":{"field":"d","type":"quantitative"}}},
{"data":{"name":"dt"},
 "mark":{"type":"line","stroke":"#3346c9","strokeWidth":1.8,"strokeDash":[2,2.5]},
 "encoding":{"x":{"field":"v","type":"quantitative","scale":{"domain":[40,140],"range":[629,445],"nice":false,"zero":false},"axis":null},"y":{"field":"d","type":"quantitative","scale":{"domain":[2882.7,3192.2],"range":[145,752],"nice":false,"zero":false},"axis":null},"order":{"field":"d","type":"quantitative"}}},
{"layer":[
 {"data":{"values":[{"d":2952.3,"d2":3060.2}]},
  "mark":{"type":"rect","color":"#6e0f10"},
  "encoding":{"x":{"datum":180,"type":"quantitative","scale":{"domain":[0,638],"range":[0,638],"nice":false,"zero":false},"axis":null},"x2":{"datum":203},"y":{"field":"d","type":"quantitative","scale":{"domain":[2882.7,3192.2],"range":[145,752],"nice":false,"zero":false},"axis":null},"y2":{"field":"d2"}}},
 {"data":{"values":[{"d":2900},{"d":2920},{"d":2940},{"d":2960},{"d":2980},{"d":3000},{"d":3020},{"d":3040},{"d":3060},{"d":3080},{"d":3100},{"d":3120},{"d":3140},{"d":3160},{"d":3180}]},
  "mark":{"type":"text","font":"Liberation Sans","fontSize":12,"color":"#3a3a3a","align":"center","baseline":"middle"},
  "encoding":{"x":{"datum":229,"type":"quantitative","scale":{"domain":[0,638],"range":[0,638],"nice":false,"zero":false},"axis":null},"y":{"field":"d","type":"quantitative","scale":{"domain":[2882.7,3192.2],"range":[145,752],"nice":false,"zero":false},"axis":null},"text":{"field":"d","type":"quantitative","format":"d"}}},
 {"data":{"values":[{"d":2951.4,"d2":3097.6}]},
  "mark":{"type":"rect","fill":"#dcb874","fillOpacity":0.78,"stroke":"#a89060","strokeWidth":0.8},
  "encoding":{"x":{"datum":591,"type":"quantitative","scale":{"domain":[0,638],"range":[0,638],"nice":false,"zero":false},"axis":null},"x2":{"datum":625},"y":{"field":"d","type":"quantitative","scale":{"domain":[2882.7,3192.2],"range":[145,752],"nice":false,"zero":false},"axis":null},"y2":{"field":"d2"}}},
 {"data":{"values":[{"d":3099.5,"d2":3141}]},
  "mark":{"type":"rect","fill":"#c57a8c","fillOpacity":0.85,"stroke":"#7a6068","strokeWidth":1},
  "encoding":{"x":{"datum":591,"type":"quantitative","scale":{"domain":[0,638],"range":[0,638],"nice":false,"zero":false},"axis":null},"x2":{"datum":625},"y":{"field":"d","type":"quantitative","scale":{"domain":[2882.7,3192.2],"range":[145,752],"nice":false,"zero":false},"axis":null},"y2":{"field":"d2"}}},
 {"data":{"values":[{"d":2951.0},{"d":2981.6},{"d":3036.7},{"d":3061.0}]},
  "mark":{"type":"rule","color":"#2f9e3a","strokeWidth":3},
  "encoding":{"x":{"datum":10,"type":"quantitative","scale":{"domain":[0,638],"range":[0,638],"nice":false,"zero":false},"axis":null},"x2":{"datum":627},"y":{"field":"d","type":"quantitative","scale":{"domain":[2882.7,3192.2],"range":[145,752],"nice":false,"zero":false},"axis":null}}},
 {"data":{"values":[{"d":2982.2,"d2":2999.9}]},
  "mark":{"type":"rect","fill":"#ffffff","stroke":"#444444","strokeWidth":1.5},
  "encoding":{"x":{"datum":155,"type":"quantitative","scale":{"domain":[0,638],"range":[0,638],"nice":false,"zero":false},"axis":null},"x2":{"datum":298},"y":{"field":"d","type":"quantitative","scale":{"domain":[2882.7,3192.2],"range":[145,752],"nice":false,"zero":false},"axis":null},"y2":{"field":"d2"}}},
 {"data":{"values":[{"d":2913.6,"d2":2926.4}]},
  "mark":{"type":"rect","fill":"#ffffff","stroke":"#444444","strokeWidth":1.5},
  "encoding":{"x":{"datum":371,"type":"quantitative","scale":{"domain":[0,638],"range":[0,638],"nice":false,"zero":false},"axis":null},"x2":{"datum":527},"y":{"field":"d","type":"quantitative","scale":{"domain":[2882.7,3192.2],"range":[145,752],"nice":false,"zero":false},"axis":null},"y2":{"field":"d2"}}},
 {"data":{"values":[{"d":2957.5,"d2":2969.7},{"d":3006.4,"d2":3018.6},{"d":3041.6,"d2":3054.4}]},
  "mark":{"type":"rect","fill":"#ffffff","stroke":"#444444","strokeWidth":1.5},
  "encoding":{"x":{"datum":395,"type":"quantitative","scale":{"domain":[0,638],"range":[0,638],"nice":false,"zero":false},"axis":null},"x2":{"datum":483},"y":{"field":"d","type":"quantitative","scale":{"domain":[2882.7,3192.2],"range":[145,752],"nice":false,"zero":false},"axis":null},"y2":{"field":"d2"}}},
 {"data":{"values":[{"d":2990.9,"t":"Zona productiva"}]},
  "mark":{"type":"text","font":"Liberation Serif","fontWeight":"bold","fontSize":15,"color":"#1a1a1a","align":"center","baseline":"middle"},
  "encoding":{"x":{"datum":226.5,"type":"quantitative","scale":{"domain":[0,638],"range":[0,638],"nice":false,"zero":false},"axis":null},"y":{"field":"d","type":"quantitative","scale":{"domain":[2882.7,3192.2],"range":[145,752],"nice":false,"zero":false},"axis":null},"text":{"field":"t"}}},
 {"data":{"values":[{"d":2920.1,"t":"FM. CATRIEL"}]},
  "mark":{"type":"text","font":"Liberation Serif","fontWeight":"bold","fontSize":15,"color":"#1a1a1a","align":"center","baseline":"middle"},
  "encoding":{"x":{"datum":449,"type":"quantitative","scale":{"domain":[0,638],"range":[0,638],"nice":false,"zero":false},"axis":null},"y":{"field":"d","type":"quantitative","scale":{"domain":[2882.7,3192.2],"range":[145,752],"nice":false,"zero":false},"axis":null},"text":{"field":"t"}}},
 {"data":{"values":[{"d":2963.6,"t":"CAPA 2"},{"d":3012.5,"t":"CAPA 3"},{"d":3048.0,"t":"CAPA 4"}]},
  "mark":{"type":"text","font":"Liberation Serif","fontSize":15,"color":"#1a1a1a","align":"center","baseline":"middle"},
  "encoding":{"x":{"datum":439,"type":"quantitative","scale":{"domain":[0,638],"range":[0,638],"nice":false,"zero":false},"axis":null},"y":{"field":"d","type":"quantitative","scale":{"domain":[2882.7,3192.2],"range":[145,752],"nice":false,"zero":false},"axis":null},"text":{"field":"t"}}},
 {"data":{"values":[{"d":2958.5,"t":"M"},{"d":2968.2,"t":"B."},{"d":2987.1,"t":"V"},{"d":2997.3,"t":"E"},{"d":3006.4,"t":"R"},{"d":3016.1,"t":"D"},{"d":3025.3,"t":"E"},{"d":3103.9,"t":"R"},{"d":3113.4,"t":"O"},{"d":3122.7,"t":"J"},{"d":3131.9,"t":"O"}]},
  "mark":{"type":"text","font":"Liberation Serif","fontWeight":"bold","fontSize":14,"color":"#1a1a1a","align":"center","baseline":"middle"},
  "encoding":{"x":{"datum":607,"type":"quantitative","scale":{"domain":[0,638],"range":[0,638],"nice":false,"zero":false},"axis":null},"y":{"field":"d","type":"quantitative","scale":{"domain":[2882.7,3192.2],"range":[145,752],"nice":false,"zero":false},"axis":null},"text":{"field":"t"}}}
]}
]
}
